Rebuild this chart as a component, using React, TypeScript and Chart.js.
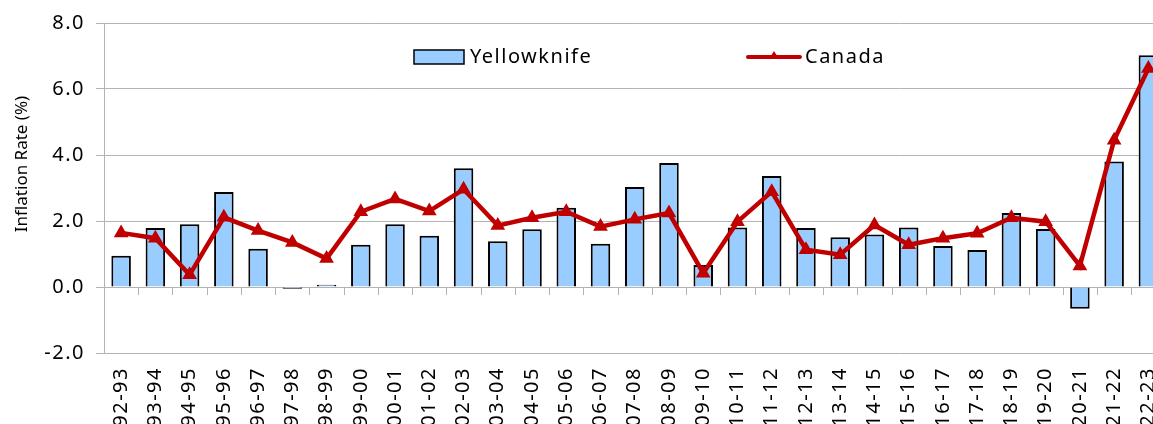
import { useEffect, useRef } from "react";
import { Chart, registerables } from "chart.js";

Chart.register(...registerables);

const categories = [
  "92-93", "93-94", "94-95", "95-96", "96-97", "97-98", "98-99", "99-00", "00-01", "01-02",
  "02-03", "03-04", "04-05", "05-06", "06-07", "07-08", "08-09", "09-10", "10-11", "11-12",
  "12-13", "13-14", "14-15", "15-16", "16-17", "17-18", "18-19", "19-20", "20-21", "21-22", "22-23",
];
const yellowknife = [
  0.95, 1.79, 1.9, 2.88, 1.16, -0.05, 0.07, 1.28, 1.9, 1.55,
  3.6, 1.39, 1.75, 2.4, 1.31, 3.03, 3.76, 0.67, 1.8, 3.36,
  1.79, 1.51, 1.59, 1.8, 1.24, 1.12, 2.24, 1.76, -0.66, 3.8, 7.02,
];
const canada = [
  1.64, 1.48, 0.37, 2.11, 1.71, 1.35, 0.86, 2.28, 2.67, 2.3,
  2.96, 1.86, 2.1, 2.28, 1.83, 2.05, 2.24, 0.42, 1.98, 2.89,
  1.13, 0.98, 1.88, 1.28, 1.48, 1.63, 2.1, 1.98, 0.64, 4.45, 6.62,
];
const yMin = -2;
const yMax = 8;
const yStep = 2;
const yTitle = "Inflation Rate (%)";
const seriesNames = ["Yellowknife", "Canada"];

const FONT = '"Noto Sans", sans-serif';
const BAR_FILL = "#99CCFF";
const LINE_COLOR = "#C00000";
const GRID = "#b3b3b3";

export default function App() {
  const ref = useRef<HTMLCanvasElement>(null);
  useEffect(() => {
    const canvas = ref.current!;
    const overlay = {
      id: "overlay",
      beforeDraw(chart: any) {
        (chart.ctx as any).letterSpacing = "1.5px";
      },
      afterDraw(chart: any) {
        const ctx = chart.ctx;
        const xs = chart.scales.x;
        const ys = chart.scales.y;
        const y0 = ys.getPixelForValue(0);
        ctx.save();
        // category boundary ticks on zero line
        ctx.strokeStyle = GRID;
        ctx.lineWidth = 1;
        ctx.beginPath();
        for (let k = 1; k < categories.length; k++) {
          const x = Math.round((xs.getPixelForValue(k - 1) + xs.getPixelForValue(k)) / 2) + 0.5;
          ctx.moveTo(x, y0);
          ctx.lineTo(x, y0 + 8);
        }
        ctx.stroke();
        // y title
        ctx.letterSpacing = "0px";
        ctx.fillStyle = "#000";
        ctx.font = `17px ${FONT}`;
        ctx.textAlign = "center";
        ctx.textBaseline = "middle";
        ctx.translate(22, 164);
        ctx.rotate(-Math.PI / 2);
        ctx.fillText(yTitle, 0, 0);
        ctx.restore();

        // legend
        ctx.save();
        const ly = 57;
        ctx.fillStyle = BAR_FILL;
        ctx.fillRect(414, 50, 50, 14);
        ctx.strokeStyle = "#000";
        ctx.lineWidth = 1.5;
        ctx.strokeRect(414, 50, 50, 14);
        ctx.fillStyle = "#000";
        ctx.letterSpacing = "1.5px";
        ctx.font = `20px ${FONT}`;
        ctx.textAlign = "left";
        ctx.textBaseline = "middle";
        ctx.fillText(seriesNames[0], 470, ly);
        ctx.strokeStyle = LINE_COLOR;
        ctx.lineWidth = 4;
        ctx.lineCap = "round";
        ctx.beginPath();
        ctx.moveTo(748, ly);
        ctx.lineTo(800, ly);
        ctx.stroke();
        ctx.fillStyle = LINE_COLOR;
        ctx.beginPath();
        ctx.moveTo(774, ly - 6);
        ctx.lineTo(779, ly + 2);
        ctx.lineTo(769, ly + 2);
        ctx.closePath();
        ctx.fill();
        ctx.fillStyle = "#000";
        ctx.fillText(seriesNames[1], 805, ly);
        ctx.restore();
      },
    };
    const chart = new Chart(canvas, {
      type: "bar",
      data: {
        labels: categories,
        datasets: [
          {
            type: "line",
            label: seriesNames[1],
            data: canada,
            borderColor: LINE_COLOR,
            backgroundColor: LINE_COLOR,
            borderWidth: 4.5,
            pointStyle: "triangle",
            pointRadius: 6.5,
            pointBorderWidth: 2,
            pointBackgroundColor: LINE_COLOR,
            pointBorderColor: LINE_COLOR,
            tension: 0,
            order: 0,
          } as any,
          {
            type: "bar",
            label: seriesNames[0],
            data: yellowknife,
            backgroundColor: BAR_FILL,
            borderColor: "#000",
            borderWidth: 2,
            categoryPercentage: 1,
            barPercentage: 0.57,
            order: 1,
          },
        ],
      },
      options: {
        animation: false,
        responsive: false,
        devicePixelRatio: 1,
        layout: { padding: { top: 22, right: 0, left: 0, bottom: 0 } },
        plugins: { legend: { display: false }, tooltip: { enabled: false } },
        scales: {
          x: {
            grid: { display: false, drawTicks: false },
            border: { display: false },
            ticks: {
              font: { family: FONT, size: 20 },
              color: "#000",
              minRotation: 90,
              maxRotation: 90,
              padding: 14,
              autoSkip: false,
            },
            afterFit(scale: any) {
              scale.height = 71;
              scale.paddingLeft = 0;
              scale.paddingRight = 0;
            },
          },
          y: {
            min: yMin,
            max: yMax,
            ticks: {
              stepSize: yStep,
              font: { family: FONT, size: 20 },
              color: "#000",
              padding: 11,
              callback: (v: any) => Number(v).toFixed(1),
            },
            grid: { color: GRID, lineWidth: 1, tickLength: 8, drawTicks: true },
            border: { display: true, color: GRID, width: 1 },
            afterFit(scale: any) {
              scale.width = 104;
            },
          },
        },
      },
      plugins: [overlay],
    });
    return () => chart.destroy();
  }, []);
  return (
    <div style={{ position: "fixed", left: 0, top: 0, width: 1153, height: 424, overflow: "hidden", background: "#fff" }}>
      <canvas ref={ref} width={1174} height={424} style={{ display: "block", width: 1174, height: 424 }} />
    </div>
  );
}
